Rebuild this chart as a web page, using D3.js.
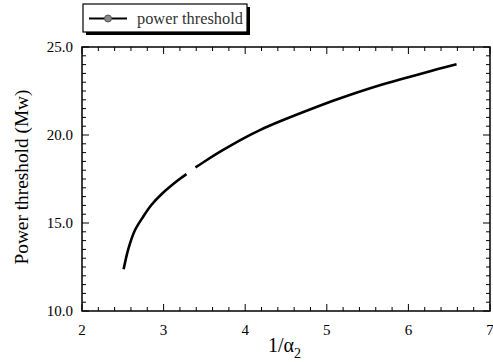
<!DOCTYPE html>
<html>
<head>
<meta charset="utf-8">
<script src="https://cdn.jsdelivr.net/npm/d3@7"></script>
<style>
  body { margin: 0; background: #fff; }
</style>
</head>
<body>
<div id="chart"></div>
<script>
// inverse alpha_2 vs power threshold, null marks the gap in the curve
var invAlpha = [2.51, 2.57, 2.65, 2.75, 2.85, 2.98, 3.18, 3.28, null,
                3.39, 3.53, 3.73, 3.98, 4.18, 4.45, 4.88, 5.28, 5.69, 6.10, 6.35, 6.59];
var power =    [12.37, 13.56, 14.6, 15.36, 16.02, 16.66, 17.44, 17.78, null,
                18.16, 18.58, 19.15, 19.81, 20.28, 20.82, 21.61, 22.27, 22.88, 23.41, 23.73, 24.02];
var xTicks = [2, 3, 4, 5, 6, 7];
var yTicks = [10, 15, 20, 25];
var seriesName = 'power threshold';

var serif = '"Liberation Serif", "Times New Roman", Times, serif';
var size = { width: 493, height: 362 };
var margin = { left: 82, right: 3, top: 47, bottom: 51 };

var svg = d3.select('#chart').append('svg')
  .attr('width', size.width)
  .attr('height', size.height)
  .style('font-family', serif);

var x = d3.scaleLinear().domain([2, 7]).range([margin.left, size.width - margin.right]);
var y = d3.scaleLinear().domain([10, 25]).range([size.height - margin.bottom, margin.top]);

var data = invAlpha.map(function(d, i){ return { x: d, y: power[i] }; });

var yBot = y(10), yTop = y(25), xLeft = x(2), xRight = x(7);

// scale a text's font so it spans about the width seen in the picture
var fit = function(sel, base, target){
  sel.style('font-size', base + 'px');
  var w = sel.node().getComputedTextLength();
  if (w > 0) sel.style('font-size', (base * target / w).toFixed(2) + 'px');
};

// frame
svg.append('rect')
  .attr('x', xLeft).attr('y', yTop)
  .attr('width', xRight - xLeft).attr('height', yBot - yTop)
  .attr('fill', 'none').attr('stroke', '#000').attr('stroke-width', 1.5);

// inward ticks on all four sides
var xMinor = d3.range(2, 7.001, 0.2);
var yMinor = d3.range(10, 25.001, 0.5);

function isMajorX(v){ return Math.abs(v - Math.round(v)) < 1e-6; }
function isMajorY(v){ return Math.abs(v / 5 - Math.round(v / 5)) < 1e-6; }

var ticks = svg.append('g').attr('stroke', '#000').attr('stroke-width', 1);
xMinor.forEach(function(v){
  var len = isMajorX(v) ? 7 : 4;
  ticks.append('line').attr('x1', x(v)).attr('x2', x(v)).attr('y1', yBot).attr('y2', yBot - len);
  ticks.append('line').attr('x1', x(v)).attr('x2', x(v)).attr('y1', yTop).attr('y2', yTop + len);
});
yMinor.forEach(function(v){
  var len = isMajorY(v) ? 7 : 4;
  ticks.append('line').attr('y1', y(v)).attr('y2', y(v)).attr('x1', xLeft).attr('x2', xLeft + len);
  ticks.append('line').attr('y1', y(v)).attr('y2', y(v)).attr('x1', xRight).attr('x2', xRight - len);
});

// tick labels
svg.selectAll('.xl').data(xTicks).enter().append('text')
  .attr('x', function(d){ return x(d); })
  .attr('y', yBot + 24)
  .attr('text-anchor', 'middle')
  .style('font-size', '15px')
  .text(function(d){ return d; });

svg.selectAll('.yl').data(yTicks).enter().append('text')
  .attr('x', xLeft - 9)
  .attr('y', function(d){ return y(d) + 5; })
  .attr('text-anchor', 'end')
  .style('font-size', '15px')
  .text(function(d){ return d.toFixed(1); });

// axis titles
var yt = svg.append('text')
  .attr('transform', 'translate(28,177) rotate(-90)')
  .attr('text-anchor', 'middle')
  .text('Power threshold (Mw)');
fit(yt, 18, 175);

var xt = svg.append('text')
  .attr('x', 268)
  .attr('y', 352);
xt.append('tspan').text('1/α');
xt.style('font-size', '20px');
xt.append('tspan').attr('dy', 6).style('font-size', '14px').text('2');

// curve
var line = d3.line()
  .defined(function(d){ return d.x !== null && d.y !== null; })
  .x(function(d){ return x(d.x); })
  .y(function(d){ return y(d.y); })
  .curve(d3.curveCatmullRom.alpha(0.5));

svg.append('path')
  .datum(data)
  .attr('d', line)
  .attr('fill', 'none')
  .attr('stroke', '#000')
  .attr('stroke-width', 2.6);

// legend
var lg = svg.append('g');
lg.append('rect').attr('x', 86).attr('y', 7).attr('width', 164).attr('height', 28).attr('fill', '#000');
lg.append('rect').attr('x', 83).attr('y', 4).attr('width', 164).attr('height', 28)
  .attr('fill', '#fff').attr('stroke', '#000').attr('stroke-width', 1.2);
lg.append('line').attr('x1', 89).attr('x2', 127).attr('y1', 18.5).attr('y2', 18.5)
  .attr('stroke', '#000').attr('stroke-width', 2);
lg.append('circle').attr('cx', 108).attr('cy', 18.5).attr('r', 3.5)
  .attr('fill', '#888').attr('stroke', '#555').attr('stroke-width', 1);
var lt = lg.append('text').attr('x', 137).attr('y', 23.5)
  .attr('fill', '#333')
  .text(seriesName);
fit(lt, 16, 106);
</script>
</body>
</html>
